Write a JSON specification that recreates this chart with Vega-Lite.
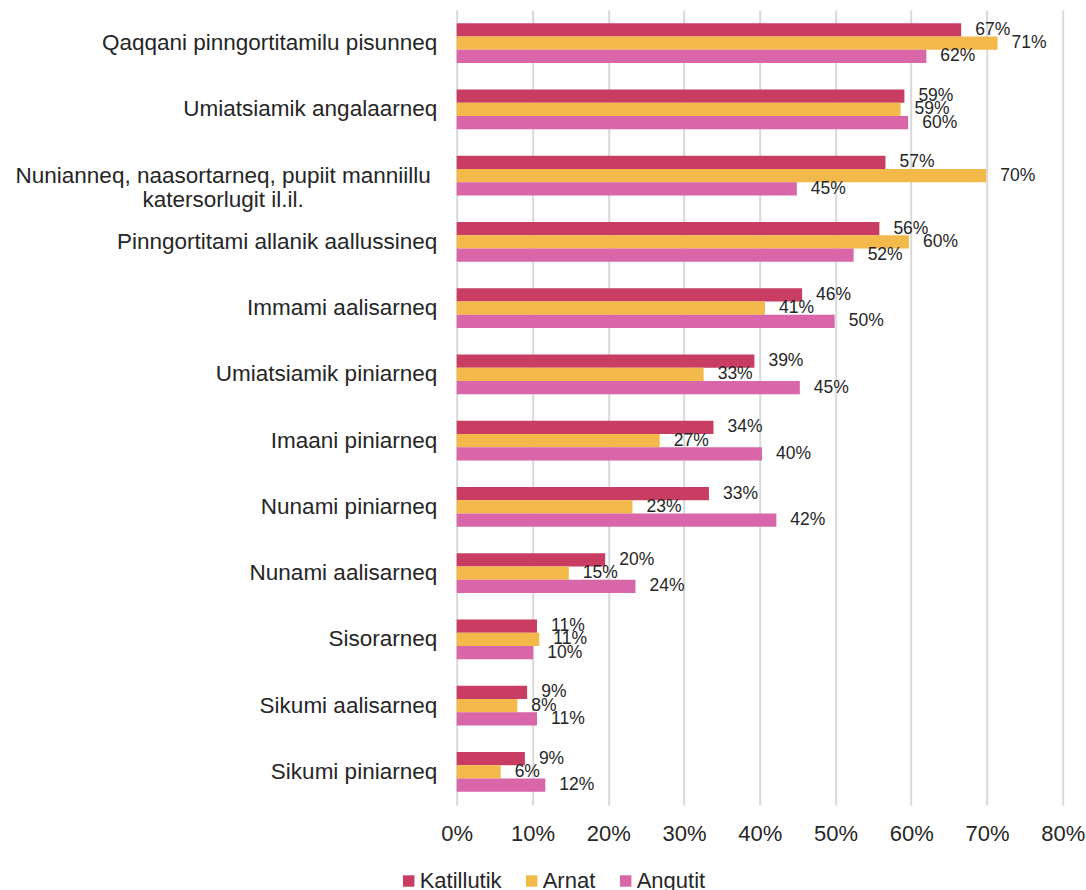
{
  "$schema": "https://vega.github.io/schema/vega-lite/v6.json",
  "width": 606,
  "height": 795,
  "autosize": {"type": "none"},
  "padding": {"left": 456.7, "top": 10, "right": 23.3, "bottom": 85},
  "background": "white",
  "config": {
    "view": {"stroke": null},
    "font": "Liberation Sans"
  },
  "data": {
    "values": [
      {"cat": "Qaqqani pinngortitamilu pisunneq", "grp": "Katillutik", "v": 0.666},
      {"cat": "Qaqqani pinngortitamilu pisunneq", "grp": "Arnat", "v": 0.714},
      {"cat": "Qaqqani pinngortitamilu pisunneq", "grp": "Angutit", "v": 0.620},
      {"cat": "Umiatsiamik angalaarneq", "grp": "Katillutik", "v": 0.591},
      {"cat": "Umiatsiamik angalaarneq", "grp": "Arnat", "v": 0.586},
      {"cat": "Umiatsiamik angalaarneq", "grp": "Angutit", "v": 0.596},
      {"cat": "Nunianneq, naasortarneq, pupiit manniillu katersorlugit il.il.", "grp": "Katillutik", "v": 0.566},
      {"cat": "Nunianneq, naasortarneq, pupiit manniillu katersorlugit il.il.", "grp": "Arnat", "v": 0.699},
      {"cat": "Nunianneq, naasortarneq, pupiit manniillu katersorlugit il.il.", "grp": "Angutit", "v": 0.449},
      {"cat": "Pinngortitami allanik aallussineq", "grp": "Katillutik", "v": 0.558},
      {"cat": "Pinngortitami allanik aallussineq", "grp": "Arnat", "v": 0.597},
      {"cat": "Pinngortitami allanik aallussineq", "grp": "Angutit", "v": 0.524},
      {"cat": "Immami aalisarneq", "grp": "Katillutik", "v": 0.456},
      {"cat": "Immami aalisarneq", "grp": "Arnat", "v": 0.407},
      {"cat": "Immami aalisarneq", "grp": "Angutit", "v": 0.499},
      {"cat": "Umiatsiamik piniarneq", "grp": "Katillutik", "v": 0.393},
      {"cat": "Umiatsiamik piniarneq", "grp": "Arnat", "v": 0.326},
      {"cat": "Umiatsiamik piniarneq", "grp": "Angutit", "v": 0.453},
      {"cat": "Imaani piniarneq", "grp": "Katillutik", "v": 0.339},
      {"cat": "Imaani piniarneq", "grp": "Arnat", "v": 0.268},
      {"cat": "Imaani piniarneq", "grp": "Angutit", "v": 0.403},
      {"cat": "Nunami piniarneq", "grp": "Katillutik", "v": 0.333},
      {"cat": "Nunami piniarneq", "grp": "Arnat", "v": 0.232},
      {"cat": "Nunami piniarneq", "grp": "Angutit", "v": 0.422},
      {"cat": "Nunami aalisarneq", "grp": "Katillutik", "v": 0.196},
      {"cat": "Nunami aalisarneq", "grp": "Arnat", "v": 0.148},
      {"cat": "Nunami aalisarneq", "grp": "Angutit", "v": 0.236},
      {"cat": "Sisorarneq", "grp": "Katillutik", "v": 0.106},
      {"cat": "Sisorarneq", "grp": "Arnat", "v": 0.109},
      {"cat": "Sisorarneq", "grp": "Angutit", "v": 0.101},
      {"cat": "Sikumi aalisarneq", "grp": "Katillutik", "v": 0.093},
      {"cat": "Sikumi aalisarneq", "grp": "Arnat", "v": 0.080},
      {"cat": "Sikumi aalisarneq", "grp": "Angutit", "v": 0.106},
      {"cat": "Sikumi piniarneq", "grp": "Katillutik", "v": 0.090},
      {"cat": "Sikumi piniarneq", "grp": "Arnat", "v": 0.058},
      {"cat": "Sikumi piniarneq", "grp": "Angutit", "v": 0.117}
    ]
  },
  "encoding": {
    "y": {
      "field": "cat",
      "type": "nominal",
      "sort": null,
      "scale": {"paddingInner": 0.4, "paddingOuter": 0.2},
      "axis": {
        "title": null,
        "domain": false,
        "ticks": false,
        "grid": false,
        "labelPadding": {
          "condition": {"test": "datum.value == 'Nunianneq, naasortarneq, pupiit manniillu katersorlugit il.il.'", "value": 234},
          "value": 20
        },
        "labelFontSize": 22.5,
        "labelColor": "#262626",
        "labelFont": "Liberation Sans",
        "labelLimit": 0,
        "labelLineHeight": 24,
        "labelAlign": {
          "condition": {"test": "datum.value == 'Nunianneq, naasortarneq, pupiit manniillu katersorlugit il.il.'", "value": "center"},
          "value": "right"
        },
        "labelExpr": "datum.value == 'Nunianneq, naasortarneq, pupiit manniillu katersorlugit il.il.' ? ['Nunianneq, naasortarneq, pupiit manniillu', 'katersorlugit il.il.'] : datum.label"
      }
    },
    "yOffset": {
      "field": "grp",
      "type": "nominal",
      "sort": ["Katillutik", "Arnat", "Angutit"]
    },
    "x": {
      "field": "v",
      "type": "quantitative",
      "scale": {"domain": [0, 0.8], "nice": false},
      "axis": {
        "title": null,
        "values": [0, 0.1, 0.2, 0.3, 0.4, 0.5, 0.6, 0.7, 0.8],
        "format": ".0%",
        "domain": false,
        "ticks": false,
        "grid": true,
        "gridColor": "#D9D9D9",
        "gridWidth": 2,
        "labelFlush": false,
        "labelPadding": 18,
        "labelFontSize": 22,
        "labelColor": "#262626",
        "labelFont": "Liberation Sans"
      }
    }
  },
  "layer": [
    {
      "mark": {"type": "bar"},
      "encoding": {
        "color": {
          "field": "grp",
          "type": "nominal",
          "scale": {
            "domain": ["Katillutik", "Arnat", "Angutit"],
            "range": ["#C93D62", "#F3B94A", "#D966A8"]
          },
          "legend": {
            "title": null,
            "orient": "none",
            "direction": "horizontal",
            "legendX": -59,
            "legendY": 860,
            "symbolType": "square",
            "symbolSize": 130,
            "symbolStrokeWidth": 0,
            "labelFontSize": 22,
            "labelFont": "Liberation Sans",
            "labelColor": "#262626",
            "labelOffset": 0,
            "columnPadding": 19,
            "padding": 0
          }
        }
      }
    },
    {
      "mark": {
        "type": "text",
        "align": "left",
        "baseline": "middle",
        "dx": 14,
        "fontSize": 17.5,
        "font": "Liberation Sans",
        "color": "#262626"
      },
      "encoding": {
        "text": {"field": "v", "type": "quantitative", "format": ".0%"}
      }
    }
  ]
}
